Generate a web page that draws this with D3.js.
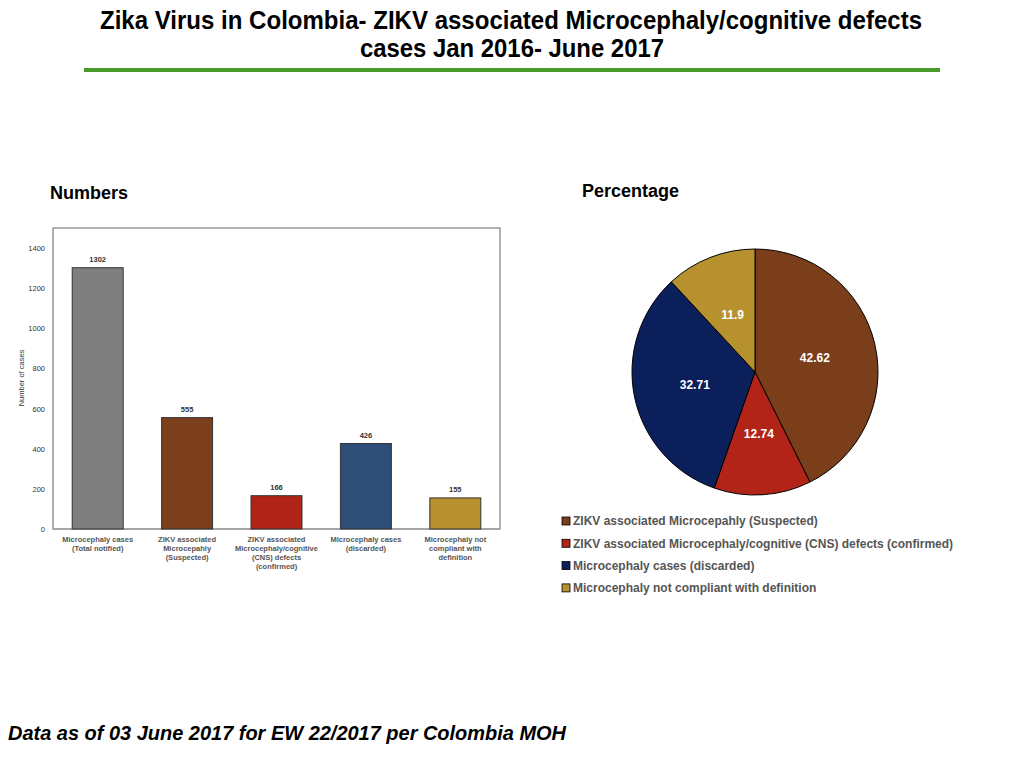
<!DOCTYPE html>
<html>
<head>
<meta charset="utf-8">
<script src="https://cdn.jsdelivr.net/npm/d3@7"></script>
<style>
  body { margin: 0; background: #fff; }
  svg { display: block; font-family: "Liberation Sans", Arial, Helvetica, sans-serif; }
</style>
</head>
<body>
<svg id="chart" width="1024" height="768"></svg>
<script>
// Bar chart data
var barLabels = [
    ["Microcephaly cases", "(Total notified)"],
    ["ZIKV associated", "Microcepahly", "(Suspected)"],
    ["ZIKV associated", "Microcephaly/cognitive", "(CNS) defects", "(confirmed)"],
    ["Microcephaly cases", "(discarded)"],
    ["Microcephaly not", "compliant with", "definition"]
];
var barValues = [1302, 555, 166, 426, 155];
var barColors = ["#7f7f7f", "#7b3f1b", "#b02418", "#2e4e78", "#b8912f"];
var yTicks = [0, 200, 400, 600, 800, 1000, 1200, 1400];

// Pie data
var pieLabels = [
    "ZIKV associated Microcepahly (Suspected)",
    "ZIKV associated Microcephaly/cognitive (CNS) defects (confirmed)",
    "Microcephaly cases (discarded)",
    "Microcephaly not compliant with definition"
];
var pieValues = [42.62, 12.74, 32.71, 11.9];
var pieColors = ["#7b3e1a", "#b22318", "#0b1f5a", "#b8912f"];

var svg = d3.select("#chart");

// Title (narrow look: squeeze a larger font into the reference width)
var title = svg.append("g")
    .attr("font-weight", "bold")
    .attr("font-size", 25)
    .attr("text-anchor", "middle")
    .attr("fill", "#000");
title.append("text").attr("x", 511).attr("y", 29)
    .attr("textLength", 822).attr("lengthAdjust", "spacingAndGlyphs")
    .text("Zika Virus in Colombia- ZIKV associated Microcephaly/cognitive defects");
title.append("text").attr("x", 512).attr("y", 57)
    .attr("textLength", 304).attr("lengthAdjust", "spacingAndGlyphs")
    .text("cases Jan 2016- June 2017");
svg.append("line")
    .attr("x1", 84).attr("x2", 940).attr("y1", 70).attr("y2", 70)
    .attr("stroke", "#4a9a2c").attr("stroke-width", 4);

// Section headings
svg.append("text").attr("x", 50).attr("y", 199)
    .attr("font-weight", "bold").attr("font-size", 18).text("Numbers");
svg.append("text").attr("x", 582).attr("y", 197)
    .attr("font-weight", "bold").attr("font-size", 18).text("Percentage");

// ---- Bar chart ----
var m = {left: 53, right: 500, top: 228, bottom: 529};

var x = d3.scaleBand()
    .domain(d3.range(barValues.length))
    .range([m.left, m.right])
    .paddingInner(0.43)
    .paddingOuter(0.215);

var y = d3.scaleLinear()
    .domain([0, 1500])
    .range([m.bottom, m.top]);

var bars = svg.append("g");

// frame
bars.append("rect")
    .attr("x", m.left).attr("y", m.top)
    .attr("width", m.right - m.left).attr("height", m.bottom - m.top)
    .attr("fill", "none").attr("stroke", "#666").attr("stroke-width", 1);

var yAxis = bars.append("g")
    .attr("transform", "translate(" + m.left + ",0)")
    .call(d3.axisLeft(y).tickValues(yTicks).tickFormat(d3.format("d")).tickSize(0).tickPadding(8));
yAxis.select(".domain").attr("stroke", "#aaa");
yAxis.selectAll("text")
    .attr("font-family", "'Liberation Sans', Arial, sans-serif")
    .attr("font-size", 7.5).attr("fill", "#333");

bars.append("line")
    .attr("x1", m.left).attr("x2", m.right)
    .attr("y1", m.bottom).attr("y2", m.bottom)
    .attr("stroke", "#999");

bars.append("text")
    .attr("transform", "translate(24,378) rotate(-90)")
    .attr("text-anchor", "middle")
    .attr("font-size", 7.5).attr("fill", "#333")
    .text("Number of cases");

bars.selectAll(".bar")
    .data(barValues)
  .enter().append("rect")
    .attr("class", "bar")
    .attr("x", function(d, i) { return x(i); })
    .attr("y", function(d) { return y(d); })
    .attr("width", x.bandwidth())
    .attr("height", function(d) { return y(0) - y(d); })
    .attr("fill", function(d, i) { return barColors[i]; })
    .attr("stroke", "#333").attr("stroke-width", 1);

bars.selectAll(".val")
    .data(barValues)
  .enter().append("text")
    .attr("class", "val")
    .attr("x", function(d, i) { return x(i) + x.bandwidth() / 2; })
    .attr("y", function(d) { return y(d) - 6; })
    .attr("text-anchor", "middle")
    .attr("font-size", 7.5).attr("font-weight", "bold").attr("fill", "#333")
    .text(function(d) { return d; });

var cats = bars.selectAll(".cat")
    .data(barLabels)
  .enter().append("text")
    .attr("class", "cat")
    .attr("text-anchor", "middle")
    .attr("font-size", 7.5).attr("font-weight", "bold").attr("fill", "#555");
cats.selectAll("tspan")
    .data(function(d, i) { return d.map(function(t) { return {t: t, i: i}; }); })
  .enter().append("tspan")
    .attr("x", function(d) { return x(d.i) + x.bandwidth() / 2; })
    .attr("y", function(d, j) { return 542 + j * 9; })
    .text(function(d) { return d.t; });

// ---- Pie chart ----
var cx = 755, cy = 372, r = 123;
var pie = d3.pie().sort(null).value(function(d) { return d; });
var arc = d3.arc().innerRadius(0).outerRadius(r);

var pg = svg.append("g").attr("transform", "translate(" + cx + "," + cy + ")");
var arcs = pie(pieValues);
pg.selectAll("path")
    .data(arcs)
  .enter().append("path")
    .attr("d", arc)
    .attr("fill", function(d, i) { return pieColors[i]; })
    .attr("stroke", "#000").attr("stroke-width", 1);
pg.selectAll("text")
    .data(arcs)
  .enter().append("text")
    .attr("transform", function(d) { return "translate(" + arc.centroid(d) + ")"; })
    .attr("dy", "0.35em")
    .attr("text-anchor", "middle")
    .attr("font-size", 12).attr("font-weight", "bold").attr("fill", "#fff")
    .text(function(d) { return d.data; });

// legend
var lg = svg.append("g").attr("transform", "translate(562,521)");
var items = lg.selectAll("g")
    .data(pieLabels)
  .enter().append("g")
    .attr("transform", function(d, i) { return "translate(0," + (i * 22.3) + ")"; });
items.append("rect")
    .attr("x", 0).attr("y", -4).attr("width", 8).attr("height", 8)
    .attr("fill", function(d, i) { return pieColors[i]; })
    .attr("stroke", "#000").attr("stroke-width", 0.8);
items.append("text")
    .attr("x", 11).attr("dy", "0.35em")
    .attr("font-size", 12).attr("font-weight", "bold").attr("fill", "#555")
    .text(function(d) { return d; });

// footer
svg.append("text").attr("x", 8).attr("y", 740)
    .attr("font-size", 19.5).attr("font-weight", "bold").attr("font-style", "italic")
    .attr("textLength", 558).attr("lengthAdjust", "spacingAndGlyphs")
    .text("Data as of 03 June 2017 for EW 22/2017 per Colombia MOH");
</script>
</body>
</html>
